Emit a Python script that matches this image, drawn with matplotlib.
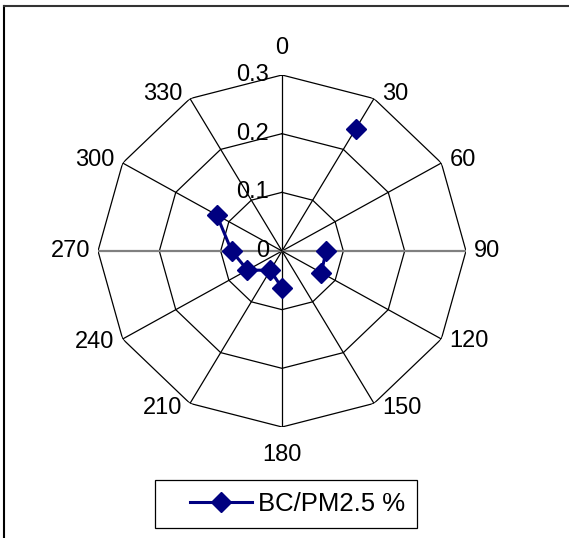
import numpy as np
import matplotlib
matplotlib.use("Agg")
import matplotlib.pyplot as plt
from matplotlib.lines import Line2D
from matplotlib.legend_handler import HandlerLine2D

plt.rcParams['font.family'] = ['Liberation Sans', 'DejaVu Sans']

# arah angin (derajat) dan nilai BC/PM2.5
directions = [0, 30, 60, 90, 120, 150, 180, 210, 240, 270, 300, 330]
bc_ratio = [np.nan, 0.24, np.nan, 0.072, 0.074, np.nan,
            0.063, 0.038, 0.065, 0.082, 0.123, np.nan]
rings = [0.1, 0.2, 0.3]
ring_labels = ["0", "0.1", "0.2", "0.3"]
series_name = "BC/PM2.5 %"

W, H = 569, 538
fig = plt.figure(figsize=(W / 100, H / 100), dpi=100)

cx, cy, RX, RY = 282, 251, 184, 176
ax = fig.add_axes([(cx - RX) / W, (H - cy - RY) / H, 2 * RX / W, 2 * RY / H],
                  projection='polar')
ax.set_aspect('auto')
ax.set_theta_zero_location('N')
ax.set_theta_direction(-1)
ax.set_ylim(0, 0.3)
ax.grid(False)
ax.set_xticks([])
ax.set_yticks([])
ax.spines['polar'].set_visible(False)
ax.patch.set_alpha(0)

theta = np.deg2rad(directions)
closed = np.append(theta, theta[0])

# grid poligon
for r in rings:
    ax.plot(closed, [r] * len(closed), color='black', lw=0.9, zorder=1)
for d, t in zip(directions, theta):
    c, w = ('#808080', 1.6) if d in (90, 270) else ('black', 0.9)
    ax.plot([t, t], [0, 0.3], color=c, lw=w, zorder=1)

# label sudut (gaya excel: atas/bawah vertikal, lainnya ke samping)
for d, t in zip(directions, theta):
    dy = 5 * np.cos(t)
    if d == 0:
        off, ha = (0, 27), 'center'
    elif d == 180:
        off, ha = (0, -28), 'center'
    elif d < 180:
        off, ha = (8, dy), 'left'
    else:
        off, ha = (-8, dy), 'right'
    ax.annotate(str(d), xy=(t, 0.3), xytext=off, textcoords='offset pixels',
                ha=ha, va='center', fontsize=17, annotation_clip=False)

# label radial
for v, lab in zip([0] + rings, ring_labels):
    ax.annotate(lab, xy=(0, v), xytext=(-13, 0), textcoords='offset pixels',
                ha='right', va='center', fontsize=17, annotation_clip=False)

ax.plot(theta, bc_ratio, color='#000080', lw=2.2, marker='D',
        markersize=10, zorder=3, clip_on=False)

handle = Line2D([], [], color='#000080', lw=2.2, marker='D', markersize=10)
leg = fig.legend([handle], [series_name], loc='center',
                 bbox_to_anchor=(286 / W, 1 - 504 / H), fontsize=18.5,
                 fancybox=False, edgecolor='black', framealpha=1,
                 handlelength=3.3, borderpad=0.45, handletextpad=0.25,
                 handler_map={Line2D: HandlerLine2D(xpad=0.9)})
leg.get_frame().set_linewidth(0.9)

# bingkai luar (kiri dan atas)
fig.add_artist(Line2D([4 / W, 4 / W], [0, 1 - 6 / H], color='black', lw=1.5,
                      transform=fig.transFigure))
fig.add_artist(Line2D([4 / W, 1], [1 - 6 / H, 1 - 6 / H], color='#333333',
                      lw=1.5, transform=fig.transFigure))

fig.savefig("out.png", dpi=100)
